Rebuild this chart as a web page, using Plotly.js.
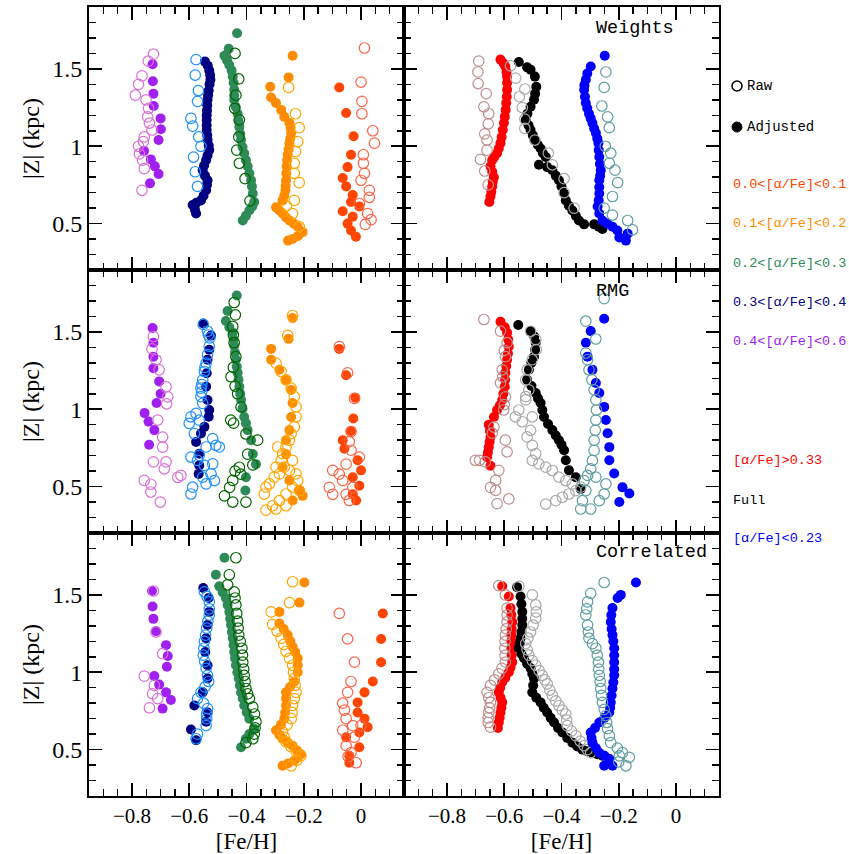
<!DOCTYPE html>
<html>
<head>
<meta charset="utf-8">
<script src="https://cdn.plot.ly/plotly-3.0.1.min.js"></script>
<style>html,body{margin:0;padding:0;background:#fff;}</style>
</head>
<body>
<div id="chart" style="width:849px;height:854px;"></div>
<script>
// ---------- DATA: [Fe/H], |Z| (kpc) pairs ----------
// Weights (top row), left panel: alpha/Fe bins
const W_a04_adj = [[-0.728,1.53],[-0.727,1.42],[-0.725,1.34],[-0.724,1.26],[-0.700,1.18],[-0.699,1.11],[-0.707,1.04],[-0.758,0.97],[-0.734,0.915],[-0.720,0.87],[-0.707,0.82],[-0.737,0.76]];
const W_a04_raw = [[-0.725,1.595],[-0.743,1.55],[-0.765,1.455],[-0.777,1.40],[-0.788,1.33],[-0.751,1.30],[-0.742,1.245],[-0.745,1.19],[-0.739,1.15],[-0.730,1.105],[-0.757,1.06],[-0.760,1.03],[-0.777,1.00],[-0.774,0.95],[-0.763,0.91],[-0.757,0.855],[-0.765,0.715]];
const W_a03_adj = [[-0.545,1.547],[-0.535,1.52],[-0.530,1.49],[-0.527,1.46],[-0.526,1.43],[-0.529,1.40],[-0.532,1.36],[-0.534,1.33],[-0.536,1.30],[-0.537,1.265],[-0.538,1.23],[-0.539,1.20],[-0.539,1.17],[-0.539,1.135],[-0.539,1.105],[-0.537,1.07],[-0.536,1.04],[-0.532,1.005],[-0.530,0.975],[-0.536,0.94],[-0.541,0.91],[-0.548,0.875],[-0.553,0.845],[-0.545,0.81],[-0.536,0.78],[-0.538,0.75],[-0.541,0.716],[-0.550,0.68],[-0.559,0.65],[-0.575,0.635],[-0.588,0.62],[-0.580,0.59],[-0.576,0.565]];
const W_a03_raw = [[-0.576,1.56],[-0.579,1.46],[-0.568,1.36],[-0.571,1.29],[-0.594,1.18],[-0.588,1.13],[-0.567,1.06],[-0.559,1.00],[-0.585,0.93],[-0.579,0.835],[-0.571,0.74]];
const W_a02_adj = [[-0.433,1.73],[-0.462,1.63],[-0.477,1.585],[-0.468,1.555],[-0.460,1.525],[-0.452,1.49],[-0.448,1.45],[-0.445,1.41],[-0.443,1.365],[-0.443,1.33],[-0.443,1.30],[-0.438,1.255],[-0.431,1.21],[-0.428,1.165],[-0.425,1.125],[-0.422,1.08],[-0.419,1.04],[-0.414,0.995],[-0.408,0.955],[-0.402,0.91],[-0.396,0.87],[-0.390,0.825],[-0.384,0.78],[-0.381,0.74],[-0.378,0.695],[-0.373,0.64],[-0.380,0.61],[-0.390,0.585],[-0.402,0.55],[-0.413,0.52]];
const W_a02_raw = [[-0.440,1.60],[-0.427,1.435],[-0.437,1.33],[-0.441,1.245],[-0.425,1.17],[-0.427,1.06],[-0.434,0.975],[-0.425,0.89],[-0.405,0.79],[-0.388,0.647]];
const W_a01_adj = [[-0.239,1.585],[-0.253,1.445],[-0.317,1.385],[-0.314,1.315],[-0.297,1.28],[-0.279,1.235],[-0.268,1.19],[-0.250,1.15],[-0.246,1.12],[-0.244,1.085],[-0.247,1.05],[-0.250,1.02],[-0.253,0.98],[-0.256,0.945],[-0.258,0.91],[-0.260,0.87],[-0.261,0.825],[-0.262,0.78],[-0.263,0.745],[-0.264,0.715],[-0.268,0.68],[-0.274,0.65],[-0.297,0.605],[-0.285,0.585],[-0.274,0.565],[-0.262,0.54],[-0.250,0.52],[-0.235,0.50],[-0.221,0.48],[-0.204,0.445],[-0.220,0.42],[-0.239,0.40],[-0.255,0.39]];
const W_a01_raw = [[-0.253,1.38],[-0.229,1.21],[-0.216,1.12],[-0.221,1.03],[-0.229,0.965],[-0.233,0.89],[-0.233,0.825],[-0.216,0.765],[-0.233,0.65],[-0.239,0.565],[-0.216,0.48],[-0.260,0.615]];
const W_a00_adj = [[-0.076,1.38],[-0.052,1.215],[-0.026,1.065],[-0.035,0.945],[-0.047,0.865],[-0.064,0.795],[-0.052,0.74],[-0.029,0.685],[-0.035,0.64],[-0.006,0.61],[-0.064,0.58],[-0.029,0.545],[-0.047,0.50],[-0.035,0.455],[-0.018,0.415]];
const W_a00_raw = [[0.012,1.635],[0.000,1.415],[0.003,1.29],[0.003,1.21],[0.041,1.10],[0.047,1.02],[0.008,0.945],[0.008,0.89],[0.012,0.825],[0.000,0.78],[0.029,0.715],[0.029,0.67],[-0.006,0.63],[0.023,0.565],[0.035,0.525],[0.015,0.495]];
// Weights, right panel
const W_hi_adj = [[-0.613,1.56],[-0.602,1.535],[-0.596,1.515],[-0.592,1.48],[-0.590,1.45],[-0.590,1.41],[-0.590,1.365],[-0.591,1.32],[-0.593,1.28],[-0.595,1.235],[-0.598,1.19],[-0.601,1.15],[-0.605,1.105],[-0.609,1.06],[-0.613,1.02],[-0.619,0.985],[-0.625,0.955],[-0.635,0.93],[-0.642,0.91],[-0.648,0.87],[-0.642,0.835],[-0.636,0.80],[-0.640,0.77],[-0.642,0.74],[-0.645,0.705],[-0.648,0.675],[-0.652,0.64]];
const W_hi_raw = [[-0.689,1.55],[-0.692,1.48],[-0.691,1.405],[-0.663,1.34],[-0.671,1.255],[-0.654,1.21],[-0.656,1.145],[-0.668,1.08],[-0.660,1.04],[-0.660,0.975],[-0.683,0.915],[-0.668,0.84],[-0.656,0.75]];
const W_full_adj = [[-0.549,1.545],[-0.520,1.51],[-0.508,1.495],[-0.493,1.45],[-0.488,1.385],[-0.492,1.34],[-0.496,1.30],[-0.508,1.255],[-0.519,1.21],[-0.525,1.17],[-0.515,1.135],[-0.508,1.105],[-0.500,1.07],[-0.493,1.04],[-0.483,1.01],[-0.473,0.985],[-0.465,0.955],[-0.455,0.93],[-0.479,0.88],[-0.450,0.865],[-0.432,0.845],[-0.420,0.81],[-0.409,0.78],[-0.400,0.74],[-0.391,0.695],[-0.385,0.65],[-0.374,0.615],[-0.362,0.585],[-0.350,0.55],[-0.339,0.52],[-0.321,0.495],[-0.286,0.495],[-0.270,0.48],[-0.257,0.465]];
const W_full_raw = [[-0.578,1.52],[-0.560,1.44],[-0.528,1.37],[-0.547,1.32],[-0.537,1.25],[-0.528,1.175],[-0.528,1.115],[-0.493,1.04],[-0.446,0.955],[-0.432,0.88],[-0.391,0.79],[-0.391,0.70],[-0.356,0.60]];
const W_lo_adj = [[-0.249,1.585],[-0.298,1.515],[-0.310,1.47],[-0.315,1.43],[-0.320,1.395],[-0.321,1.365],[-0.318,1.32],[-0.315,1.28],[-0.310,1.245],[-0.304,1.21],[-0.298,1.18],[-0.292,1.15],[-0.286,1.115],[-0.280,1.085],[-0.275,1.05],[-0.271,1.02],[-0.270,0.975],[-0.268,0.93],[-0.266,0.885],[-0.263,0.845],[-0.265,0.81],[-0.268,0.78],[-0.268,0.735],[-0.268,0.695],[-0.270,0.65],[-0.274,0.61],[-0.268,0.565],[-0.257,0.52],[-0.240,0.50],[-0.222,0.48],[-0.205,0.455],[-0.198,0.41],[-0.175,0.39],[-0.169,0.435]];
const W_lo_raw = [[-0.245,1.48],[-0.251,1.38],[-0.259,1.26],[-0.239,1.19],[-0.233,1.12],[-0.247,1.00],[-0.228,0.955],[-0.233,0.89],[-0.213,0.845],[-0.204,0.765],[-0.222,0.675],[-0.251,0.60],[-0.222,0.555],[-0.169,0.52],[-0.152,0.46]];

// RMG (middle row), left panel
const R_a04_adj = [[-0.728,1.525],[-0.725,1.43],[-0.725,1.34],[-0.725,1.265],[-0.705,1.18],[-0.700,1.10],[-0.714,1.04],[-0.756,0.975],[-0.742,0.92],[-0.722,0.865],[-0.740,0.77]];
const R_a04_raw = [[-0.725,1.47],[-0.730,1.39],[-0.716,1.32],[-0.705,1.255],[-0.681,1.145],[-0.675,1.08],[-0.679,1.035],[-0.710,0.93],[-0.693,0.82],[-0.693,0.755],[-0.725,0.66],[-0.681,0.66],[-0.687,0.615],[-0.757,0.54],[-0.734,0.515],[-0.734,0.465],[-0.701,0.40],[-0.629,0.572],[-0.640,0.56]];
const R_a03_adj = [[-0.551,1.554],[-0.524,1.476],[-0.530,1.385],[-0.536,1.32],[-0.539,1.233],[-0.541,1.146],[-0.536,1.06],[-0.530,0.995],[-0.532,0.951],[-0.547,0.886],[-0.559,0.843],[-0.576,0.789],[-0.565,0.713],[-0.565,0.637],[-0.567,0.582]];
const R_a03_raw = [[-0.551,1.548],[-0.536,1.504],[-0.533,1.48],[-0.528,1.461],[-0.530,1.407],[-0.536,1.353],[-0.541,1.298],[-0.545,1.27],[-0.547,1.244],[-0.553,1.190],[-0.556,1.16],[-0.559,1.136],[-0.557,1.11],[-0.559,1.081],[-0.553,1.038],[-0.594,0.951],[-0.576,0.973],[-0.600,0.908],[-0.565,0.929],[-0.582,0.843],[-0.518,0.810],[-0.507,0.767],[-0.495,0.756],[-0.541,0.756],[-0.565,0.702],[-0.594,0.691],[-0.571,0.669],[-0.547,0.637],[-0.518,0.647],[-0.524,0.582],[-0.553,0.561],[-0.541,0.517],[-0.588,0.496],[-0.594,0.452],[-0.512,0.539]];
const R_a02_adj = [[-0.434,1.735],[-0.466,1.635],[-0.472,1.57],[-0.460,1.53],[-0.448,1.495],[-0.445,1.45],[-0.443,1.41],[-0.440,1.365],[-0.437,1.32],[-0.434,1.275],[-0.431,1.235],[-0.428,1.19],[-0.425,1.145],[-0.422,1.10],[-0.419,1.06],[-0.414,1.005],[-0.408,0.95],[-0.402,0.91],[-0.396,0.865],[-0.384,0.80],[-0.378,0.71],[-0.367,0.645],[-0.402,0.56],[-0.404,0.475]];
const R_a02_raw = [[-0.443,1.69],[-0.439,1.61],[-0.448,1.535],[-0.446,1.48],[-0.443,1.43],[-0.437,1.34],[-0.446,1.27],[-0.454,1.21],[-0.440,1.15],[-0.431,1.10],[-0.419,1.015],[-0.455,0.93],[-0.445,0.91],[-0.402,0.84],[-0.361,0.80],[-0.396,0.71],[-0.425,0.625],[-0.448,0.54],[-0.459,0.495],[-0.448,0.40],[-0.402,0.40],[-0.477,0.44],[-0.378,0.64],[-0.420,0.58],[-0.440,0.60]];
const R_a01_adj = [[-0.239,1.59],[-0.253,1.455],[-0.314,1.39],[-0.314,1.32],[-0.285,1.255],[-0.262,1.19],[-0.244,1.125],[-0.239,1.04],[-0.244,0.95],[-0.250,0.865],[-0.262,0.80],[-0.262,0.71],[-0.274,0.625],[-0.250,0.54],[-0.215,0.475],[-0.204,0.44],[-0.239,0.41]];
const R_a01_raw = [[-0.239,1.606],[-0.256,1.477],[-0.297,1.298],[-0.279,1.244],[-0.262,1.190],[-0.244,1.136],[-0.233,1.081],[-0.227,1.016],[-0.227,0.951],[-0.233,0.886],[-0.244,0.843],[-0.332,0.496],[-0.338,0.452],[-0.320,0.517],[-0.303,0.561],[-0.285,0.582],[-0.297,0.626],[-0.279,0.669],[-0.274,0.713],[-0.291,0.756],[-0.262,0.756],[-0.250,0.799],[-0.268,0.626],[-0.250,0.604],[-0.239,0.669],[-0.227,0.582],[-0.221,0.539],[-0.239,0.496],[-0.262,0.452],[-0.285,0.409],[-0.309,0.376],[-0.332,0.348],[-0.297,0.355],[-0.262,0.376],[-0.215,0.474]];
const R_a00_adj = [[-0.076,1.39],[-0.052,1.22],[-0.020,1.075],[-0.027,0.94],[-0.035,0.86],[-0.064,0.80],[-0.058,0.745],[-0.012,0.67],[0.000,0.605],[-0.029,0.56],[-0.006,0.505],[-0.029,0.45],[-0.017,0.41]];
const R_a00_raw = [[-0.076,1.405],[-0.047,1.235],[-0.023,1.07],[-0.035,0.855],[-0.041,0.79],[-0.035,0.735],[-0.006,0.69],[-0.052,0.645],[-0.099,0.605],[-0.076,0.58],[-0.064,0.54],[-0.111,0.495],[-0.099,0.45],[-0.052,0.45],[-0.041,0.41],[-0.029,0.495]];
// RMG, right panel
const R_hi_adj = [[-0.613,1.565],[-0.598,1.53],[-0.590,1.495],[-0.586,1.45],[-0.584,1.405],[-0.587,1.36],[-0.590,1.32],[-0.593,1.28],[-0.596,1.235],[-0.597,1.19],[-0.598,1.145],[-0.603,1.10],[-0.607,1.06],[-0.615,1.025],[-0.625,0.995],[-0.636,0.95],[-0.654,0.90],[-0.650,0.86],[-0.648,0.82],[-0.651,0.79],[-0.654,0.755],[-0.657,0.72],[-0.660,0.69],[-0.648,0.635]];
const R_hi_raw = [[-0.671,1.58],[-0.613,1.505],[-0.590,1.43],[-0.600,1.38],[-0.596,1.34],[-0.607,1.255],[-0.605,1.21],[-0.613,1.17],[-0.596,1.08],[-0.600,1.03],[-0.602,0.995],[-0.636,0.885],[-0.642,0.845],[-0.596,0.80],[-0.590,0.725],[-0.701,0.67],[-0.686,0.67],[-0.666,0.66],[-0.619,0.605],[-0.630,0.54],[-0.648,0.495],[-0.630,0.475],[-0.584,0.42],[-0.625,0.39]];
const R_full_adj = [[-0.551,1.545],[-0.508,1.505],[-0.495,1.47],[-0.490,1.43],[-0.492,1.385],[-0.496,1.34],[-0.505,1.30],[-0.514,1.255],[-0.520,1.19],[-0.505,1.15],[-0.490,1.105],[-0.482,1.07],[-0.473,1.04],[-0.467,0.995],[-0.461,0.95],[-0.447,0.905],[-0.432,0.865],[-0.420,0.83],[-0.409,0.80],[-0.400,0.77],[-0.391,0.735],[-0.385,0.67],[-0.374,0.605],[-0.350,0.56],[-0.333,0.485]];
const R_full_raw = [[-0.508,1.504],[-0.490,1.450],[-0.488,1.385],[-0.502,1.320],[-0.520,1.255],[-0.525,1.190],[-0.514,1.125],[-0.525,1.081],[-0.525,1.060],[-0.549,0.995],[-0.561,0.951],[-0.537,0.919],[-0.502,0.951],[-0.508,0.864],[-0.520,0.821],[-0.502,0.767],[-0.490,0.713],[-0.502,0.669],[-0.479,0.647],[-0.455,0.626],[-0.432,0.604],[-0.409,0.561],[-0.385,0.539],[-0.362,0.517],[-0.333,0.496],[-0.455,0.387],[-0.420,0.409],[-0.397,0.431],[-0.374,0.452],[-0.350,0.474]];
const R_lo_adj = [[-0.251,1.585],[-0.298,1.505],[-0.315,1.43],[-0.309,1.34],[-0.292,1.255],[-0.280,1.17],[-0.268,1.105],[-0.251,1.015],[-0.245,0.93],[-0.239,0.845],[-0.233,0.755],[-0.233,0.67],[-0.216,0.585],[-0.187,0.495],[-0.163,0.455],[-0.198,0.40]];
const R_lo_raw = [[-0.251,1.715],[-0.315,1.569],[-0.280,1.454],[-0.315,1.363],[-0.309,1.320],[-0.304,1.255],[-0.294,1.190],[-0.286,1.125],[-0.280,1.060],[-0.278,0.995],[-0.280,0.930],[-0.282,0.864],[-0.286,0.799],[-0.286,0.734],[-0.292,0.669],[-0.298,0.615],[-0.309,0.572],[-0.321,0.539],[-0.315,0.474],[-0.327,0.409],[-0.333,0.355],[-0.298,0.355],[-0.268,0.409],[-0.251,0.452],[-0.245,0.517],[-0.280,0.561]];

// Correlated (bottom row), left panel
const C_a04_adj = [[-0.730,1.525],[-0.728,1.425],[-0.725,1.345],[-0.716,1.265],[-0.681,1.175],[-0.675,1.105],[-0.678,1.035],[-0.722,0.975],[-0.705,0.92],[-0.681,0.87],[-0.664,0.82],[-0.693,0.765]];
const C_a04_raw = [[-0.725,1.525],[-0.716,1.26],[-0.693,1.12],[-0.757,0.975],[-0.722,0.915],[-0.728,0.86],[-0.710,0.83],[-0.739,0.77]];
const C_a03_adj = [[-0.551,1.545],[-0.532,1.48],[-0.530,1.39],[-0.536,1.305],[-0.541,1.22],[-0.544,1.13],[-0.536,1.045],[-0.536,0.96],[-0.553,0.87],[-0.582,0.785],[-0.536,0.74],[-0.541,0.68],[-0.594,0.63],[-0.576,0.56]];
const C_a03_raw = [[-0.547,1.52],[-0.538,1.49],[-0.530,1.455],[-0.530,1.41],[-0.530,1.37],[-0.535,1.33],[-0.539,1.285],[-0.543,1.24],[-0.547,1.20],[-0.549,1.155],[-0.551,1.11],[-0.546,1.07],[-0.541,1.025],[-0.536,0.98],[-0.532,0.94],[-0.545,0.905],[-0.559,0.87],[-0.571,0.83],[-0.550,0.80],[-0.536,0.765],[-0.539,0.73],[-0.539,0.70],[-0.541,0.655],[-0.571,0.60],[-0.576,0.57]];
const C_a02_adj = [[-0.477,1.74],[-0.507,1.63],[-0.495,1.555],[-0.483,1.515],[-0.472,1.48],[-0.466,1.435],[-0.460,1.39],[-0.457,1.345],[-0.454,1.305],[-0.451,1.26],[-0.448,1.22],[-0.445,1.175],[-0.443,1.13],[-0.440,1.09],[-0.437,1.045],[-0.432,1.00],[-0.427,0.96],[-0.423,0.915],[-0.419,0.87],[-0.413,0.83],[-0.408,0.785],[-0.399,0.74],[-0.390,0.70],[-0.373,0.635],[-0.390,0.60],[-0.402,0.57],[-0.419,0.515]];
const C_a02_raw = [[-0.437,1.74],[-0.460,1.63],[-0.466,1.565],[-0.443,1.52],[-0.440,1.48],[-0.437,1.435],[-0.434,1.38],[-0.431,1.33],[-0.429,1.285],[-0.427,1.24],[-0.422,1.20],[-0.416,1.155],[-0.414,1.11],[-0.413,1.065],[-0.410,1.02],[-0.408,0.98],[-0.405,0.94],[-0.402,0.895],[-0.396,0.86],[-0.390,0.83],[-0.378,0.775],[-0.372,0.73],[-0.367,0.68],[-0.370,0.64],[-0.373,0.60],[-0.378,0.57],[-0.402,0.545]];
const C_a01_adj = [[-0.198,1.58],[-0.215,1.45],[-0.285,1.39],[-0.285,1.315],[-0.270,1.28],[-0.256,1.24],[-0.247,1.20],[-0.239,1.165],[-0.230,1.13],[-0.221,1.09],[-0.221,1.045],[-0.221,1.00],[-0.233,0.94],[-0.248,0.905],[-0.262,0.87],[-0.262,0.83],[-0.262,0.785],[-0.265,0.74],[-0.268,0.70],[-0.280,0.66],[-0.297,0.625],[-0.285,0.595],[-0.274,0.57],[-0.256,0.545],[-0.239,0.525],[-0.224,0.495],[-0.210,0.47],[-0.221,0.45],[-0.233,0.43],[-0.255,0.41],[-0.274,0.395]];
const C_a01_raw = [[-0.239,1.585],[-0.250,1.45],[-0.314,1.39],[-0.309,1.31],[-0.293,1.265],[-0.279,1.22],[-0.270,1.18],[-0.262,1.135],[-0.250,1.09],[-0.239,1.045],[-0.236,1.00],[-0.233,0.96],[-0.230,0.915],[-0.227,0.87],[-0.233,0.83],[-0.239,0.785],[-0.241,0.74],[-0.244,0.70],[-0.258,0.66],[-0.274,0.615],[-0.268,0.58],[-0.262,0.55],[-0.245,0.52],[-0.227,0.49],[-0.210,0.46],[-0.225,0.43],[-0.244,0.395]];
const C_a00_adj = [[0.076,1.38],[0.070,1.215],[0.070,1.065],[0.041,0.94],[0.012,0.87],[-0.012,0.805],[-0.012,0.74],[0.012,0.70],[0.023,0.645],[-0.006,0.61],[-0.052,0.58],[-0.006,0.515],[-0.041,0.46],[-0.041,0.415]];
const C_a00_raw = [[-0.076,1.38],[-0.047,1.215],[-0.023,1.065],[-0.035,0.94],[-0.047,0.87],[-0.064,0.80],[-0.058,0.755],[-0.052,0.70],[-0.029,0.655],[-0.064,0.625],[-0.023,0.58],[-0.052,0.525],[-0.035,0.48],[-0.017,0.415],[0.000,0.655],[-0.045,0.455]];
// Correlated, right panel
const C_hi_adj = [[-0.607,1.555],[-0.584,1.49],[-0.578,1.415],[-0.575,1.37],[-0.572,1.325],[-0.574,1.28],[-0.575,1.24],[-0.575,1.20],[-0.575,1.155],[-0.574,1.11],[-0.572,1.065],[-0.578,1.03],[-0.584,1.00],[-0.596,0.965],[-0.607,0.935],[-0.614,0.90],[-0.619,0.87],[-0.613,0.835],[-0.607,0.805],[-0.610,0.77],[-0.613,0.74],[-0.616,0.705],[-0.619,0.675],[-0.622,0.64]];
const C_hi_raw = [[-0.619,1.56],[-0.596,1.50],[-0.590,1.415],[-0.590,1.37],[-0.590,1.325],[-0.593,1.28],[-0.596,1.24],[-0.597,1.20],[-0.598,1.155],[-0.597,1.11],[-0.596,1.065],[-0.608,1.025],[-0.619,0.99],[-0.634,0.95],[-0.648,0.915],[-0.660,0.87],[-0.654,0.835],[-0.648,0.805],[-0.651,0.77],[-0.654,0.74],[-0.656,0.705],[-0.656,0.675],[-0.648,0.645]];
const C_full_adj = [[-0.555,1.55],[-0.543,1.49],[-0.540,1.44],[-0.537,1.39],[-0.537,1.345],[-0.537,1.305],[-0.540,1.26],[-0.543,1.22],[-0.546,1.185],[-0.549,1.155],[-0.540,1.12],[-0.531,1.09],[-0.520,1.055],[-0.508,1.025],[-0.502,0.99],[-0.496,0.96],[-0.499,0.915],[-0.502,0.87],[-0.488,0.835],[-0.473,0.805],[-0.462,0.77],[-0.450,0.74],[-0.438,0.705],[-0.426,0.675],[-0.412,0.64],[-0.397,0.61],[-0.380,0.575],[-0.362,0.545],[-0.345,0.52],[-0.327,0.50],[-0.310,0.49],[-0.292,0.48],[-0.275,0.47],[-0.257,0.46]];
const C_full_raw = [[-0.549,1.555],[-0.502,1.50],[-0.490,1.435],[-0.488,1.39],[-0.490,1.35],[-0.499,1.305],[-0.508,1.26],[-0.517,1.22],[-0.525,1.185],[-0.520,1.145],[-0.514,1.11],[-0.502,1.075],[-0.490,1.045],[-0.478,1.01],[-0.467,0.98],[-0.458,0.95],[-0.450,0.925],[-0.441,0.885],[-0.432,0.85],[-0.420,0.815],[-0.409,0.785],[-0.397,0.755],[-0.385,0.73],[-0.382,0.69],[-0.380,0.655],[-0.365,0.62],[-0.350,0.59],[-0.335,0.555],[-0.321,0.525],[-0.310,0.50],[-0.298,0.48]];
const C_lo_adj = [[-0.140,1.58],[-0.193,1.50],[-0.204,1.48],[-0.222,1.415],[-0.226,1.37],[-0.228,1.325],[-0.225,1.28],[-0.222,1.24],[-0.219,1.20],[-0.216,1.155],[-0.216,1.11],[-0.216,1.065],[-0.216,1.02],[-0.216,0.98],[-0.219,0.935],[-0.222,0.895],[-0.225,0.85],[-0.228,0.805],[-0.230,0.77],[-0.233,0.74],[-0.250,0.705],[-0.268,0.675],[-0.283,0.64],[-0.298,0.61],[-0.295,0.575],[-0.292,0.545],[-0.280,0.51],[-0.268,0.48],[-0.250,0.46],[-0.233,0.44],[-0.222,0.395],[-0.251,0.395]];
const C_lo_raw = [[-0.251,1.58],[-0.298,1.51],[-0.309,1.455],[-0.312,1.41],[-0.315,1.37],[-0.309,1.305],[-0.306,1.26],[-0.304,1.22],[-0.292,1.185],[-0.280,1.155],[-0.275,1.11],[-0.271,1.065],[-0.270,1.02],[-0.268,0.98],[-0.265,0.94],[-0.263,0.895],[-0.260,0.85],[-0.257,0.805],[-0.251,0.76],[-0.245,0.72],[-0.242,0.675],[-0.239,0.635],[-0.233,0.59],[-0.228,0.545],[-0.205,0.51],[-0.187,0.48],[-0.163,0.45],[-0.198,0.46],[-0.175,0.395],[-0.200,0.42]];

// Colours per series
const COLORS = {
  a00: ['#FF4500', '#FF6347'],
  a01: ['#FF8C00', '#FFA500'],
  a02: ['#2E8B57', '#006400'],
  a03: ['#000080', '#1E90FF'],
  a04: ['#A020F0', '#DA70D6'],
  hi:  ['#FF0000', '#BC8F8F'],
  full:['#000000', '#A9A9A9'],
  lo:  ['#0000FF', '#5F9EA0']
};

// Legend labels
const legendBins = ['0.0<[α/Fe]<0.1','0.1<[α/Fe]<0.2','0.2<[α/Fe]<0.3','0.3<[α/Fe]<0.4','0.4<[α/Fe]<0.6'];
const legendBinColors = ['#FF4500','#FF8C00','#2E8B57','#000080','#A020F0'];
const legendPops = ['[α/Fe]>0.33','Full','[α/Fe]<0.23'];
const legendPopColors = ['#FF0000','#000000','#0000FF'];
const panelNames = ['Weights','RMG','Correlated'];
const xTitle = '[Fe/H]';
const yTitle = '|Z| (kpc)';

// ---------- BUILD ----------
function tr(pairs, xa, ya, color, open) {
  return {
    type: 'scatter', mode: 'markers', xaxis: xa, yaxis: ya, hoverinfo: 'skip',
    x: pairs.map(p => p[0]), y: pairs.map(p => p[1]),
    marker: open
      ? {symbol: 'circle-open', size: 10.5, color: color, line: {width: 1.2, color: color}}
      : {symbol: 'circle', size: 10, color: color, line: {width: 0}}
  };
}
const panels = [
  {xa:'x',  ya:'y',  set:{a04:[W_a04_adj,W_a04_raw],a03:[W_a03_adj,W_a03_raw],a02:[W_a02_adj,W_a02_raw],a01:[W_a01_adj,W_a01_raw],a00:[W_a00_adj,W_a00_raw]}},
  {xa:'x2', ya:'y2', set:{hi:[W_hi_adj,W_hi_raw],full:[W_full_adj,W_full_raw],lo:[W_lo_adj,W_lo_raw]}},
  {xa:'x3', ya:'y3', set:{a04:[R_a04_adj,R_a04_raw],a03:[R_a03_adj,R_a03_raw],a02:[R_a02_adj,R_a02_raw],a01:[R_a01_adj,R_a01_raw],a00:[R_a00_adj,R_a00_raw]}},
  {xa:'x4', ya:'y4', set:{hi:[R_hi_adj,R_hi_raw],full:[R_full_adj,R_full_raw],lo:[R_lo_adj,R_lo_raw]}},
  {xa:'x5', ya:'y5', set:{a04:[C_a04_adj,C_a04_raw],a03:[C_a03_adj,C_a03_raw],a02:[C_a02_adj,C_a02_raw],a01:[C_a01_adj,C_a01_raw],a00:[C_a00_adj,C_a00_raw]}},
  {xa:'x6', ya:'y6', set:{hi:[C_hi_adj,C_hi_raw],full:[C_full_adj,C_full_raw],lo:[C_lo_adj,C_lo_raw]}}
];
const traces = [];
panels.forEach(p => {
  Object.keys(p.set).forEach(k => {
    traces.push(tr(p.set[k][0], p.xa, p.ya, COLORS[k][0], false));
    traces.push(tr(p.set[k][1], p.xa, p.ya, COLORS[k][1], true));
  });
});

const serif = '"Liberation Serif", "DejaVu Serif", serif';
const mono = '"Liberation Mono", "DejaVu Sans Mono", monospace';
function xax(domain, anchor, labels) {
  return {
    domain: domain, anchor: anchor, range: [-0.95, 0.15],
    tickmode: 'linear', tick0: 0, dtick: 0.2,
    ticks: 'inside', ticklen: 13, tickwidth: 1.5, tickcolor: '#000',
    minor: {dtick: 0.05, ticks: 'inside', ticklen: 7, tickwidth: 1.5, tickcolor: '#000'},
    showline: true, linewidth: 2, linecolor: '#000', mirror: 'ticks',
    showgrid: false, zeroline: false, showticklabels: labels,
    tickfont: {family: serif, size: 21, color: '#000'},
    title: labels ? {text: xTitle, font: {family: serif, size: 23, color: '#000'}, standoff: 14} : {text: ''}
  };
}
function yax(domain, anchor, labels) {
  return {
    domain: domain, anchor: anchor, range: [0.2, 1.9],
    tickmode: 'linear', tick0: 0, dtick: 0.5,
    ticks: 'inside', ticklen: 13, tickwidth: 1.5, tickcolor: '#000',
    minor: {dtick: 0.1, ticks: 'inside', ticklen: 7, tickwidth: 1.5, tickcolor: '#000'},
    showline: true, linewidth: 2, linecolor: '#000', mirror: 'ticks',
    showgrid: false, zeroline: false, showticklabels: labels,
    tickfont: {family: serif, size: 24, color: '#000'},
    title: labels ? {text: yTitle, font: {family: serif, size: 24, color: '#000'}, standoff: 6} : {text: ''}
  };
}
const L = [0, 0.5], R = [0.5, 1];
const r1 = [2/3, 1], r2 = [1/3, 2/3], r3 = [0, 1/3];

const W = 849, H = 854, ml = 89, mr = 130, mt = 7, mb = 58;
const pw = W - ml - mr, ph = H - mt - mb;
const px = v => (v - ml) / pw;
const py = v => (H - mb - v) / ph;

const annotations = [];
const panelY = [28, 291, 553];
panelNames.forEach((t, i) => annotations.push({
  xref: 'paper', yref: 'paper', x: px(594), y: py(panelY[i]), xanchor: 'left', yanchor: 'middle',
  text: t, showarrow: false, font: {family: mono, size: 18.5, color: '#000'}
}));
annotations.push({xref:'paper', yref:'paper', x: px(745), y: py(86), xanchor:'left', yanchor:'middle', text:'Raw', showarrow:false, font:{family: mono, size: 14, color:'#000'}});
annotations.push({xref:'paper', yref:'paper', x: px(745), y: py(127), xanchor:'left', yanchor:'middle', text:'Adjusted', showarrow:false, font:{family: mono, size: 14, color:'#000'}});
const binY = [185, 224, 263, 302, 341];
legendBins.forEach((t, i) => annotations.push({
  xref:'paper', yref:'paper', x: px(731), y: py(binY[i]), xanchor:'left', yanchor:'middle',
  text: t, showarrow:false, font:{family: mono, size: 13.5, color: legendBinColors[i]}
}));
const popY = [461, 500, 539];
legendPops.forEach((t, i) => annotations.push({
  xref:'paper', yref:'paper', x: px(731), y: py(popY[i]), xanchor:'left', yanchor:'middle',
  text: t, showarrow:false, font:{family: mono, size: 13.5, color: legendPopColors[i]}
}));

const shapes = [
  {type:'circle', xref:'paper', yref:'paper', xsizemode:'pixel', ysizemode:'pixel',
   xanchor: px(737), yanchor: py(86), x0:-5, x1:5, y0:-5, y1:5, line:{color:'#000', width:1.5}, fillcolor:'rgba(0,0,0,0)'},
  {type:'circle', xref:'paper', yref:'paper', xsizemode:'pixel', ysizemode:'pixel',
   xanchor: px(737), yanchor: py(127), x0:-5, x1:5, y0:-5, y1:5, line:{color:'#000', width:1}, fillcolor:'#000'}
];

const layout = {
  width: W, height: H, margin: {l: ml, r: mr, t: mt, b: mb},
  paper_bgcolor: '#fff', plot_bgcolor: '#fff', showlegend: false,
  font: {family: serif, color: '#000'},
  xaxis:  xax(L, 'y', false),  yaxis:  yax(r1, 'x', true),
  xaxis2: xax(R, 'y2', false), yaxis2: yax(r1, 'x2', false),
  xaxis3: xax(L, 'y3', false), yaxis3: yax(r2, 'x3', true),
  xaxis4: xax(R, 'y4', false), yaxis4: yax(r2, 'x4', false),
  xaxis5: xax(L, 'y5', true),  yaxis5: yax(r3, 'x5', true),
  xaxis6: xax(R, 'y6', true),  yaxis6: yax(r3, 'x6', false),
  annotations: annotations, shapes: shapes
};
Plotly.newPlot('chart', traces, layout, {displayModeBar: false, staticPlot: true});
</script>
</body>
</html>
